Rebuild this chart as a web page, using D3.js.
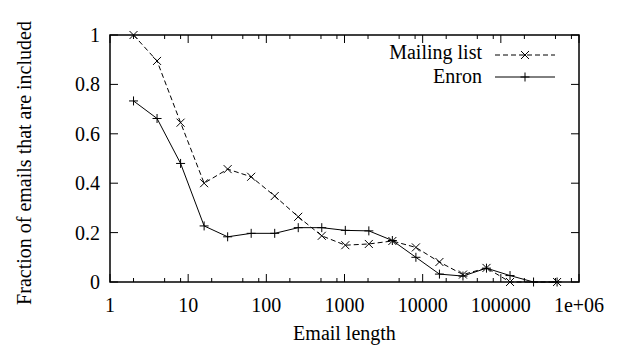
<!DOCTYPE html>
<html>
<head>
<meta charset="utf-8">
<script src="https://cdn.jsdelivr.net/npm/d3@7"></script>
</head>
<body style="margin:0;background:#fff">
<div id="chart"></div>
<script>
// email lengths (bytes), powers of two
var lengths = [2, 4, 8, 16, 32, 64, 128, 256, 512, 1024, 2048, 4096, 8192,
  16384, 32768, 65536, 131072, 262144, 524288];

// fraction included (null = no point)
var mailingList = [1.0, 0.895, 0.645, 0.400, 0.457, 0.426, 0.348, 0.264, 0.187,
  0.149, 0.154, 0.166, 0.140, 0.081, 0.030, 0.057, 0.0, null, 0.0];
var enron = [0.733, 0.662, 0.480, 0.227, 0.183, 0.197, 0.197, 0.220, 0.220,
  0.209, 0.207, 0.168, 0.100, 0.032, 0.024, 0.056, 0.026, 0.0, 0.0];

var xTicks = [1, 10, 100, 1000, 10000, 100000, 1000000];
var xTickLabels = ['1', '10', '100', '1000', '10000', '100000', '1e+06'];
var xMinor = [2, 5, 8];
var yTicks = [0, 0.2, 0.4, 0.6, 0.8, 1];
var yTickLabels = ['0', '0.2', '0.4', '0.6', '0.8', '1'];

(function () {
  var width = 625,
    height = 347;
  var mLeft = 110, mRight = 579, mTop = 35, mBottom = 282;

  var x = d3.scaleLog().domain([1, 1e6]).range([mLeft, mRight]);
  var y = d3.scaleLinear().domain([0, 1]).range([mBottom, mTop]);

  var svg = d3.select('#chart')
    .append('svg')
    .attr('width', width)
    .attr('height', height);

  // minor x ticks: 2,5,8 in each decade
  var minorVals = [];
  xTicks.slice(0, -1).forEach(function (d) {
    xMinor.forEach(function (m) { minorVals.push(d * m); });
  });

  var ticks = svg.append('g').attr('stroke', '#000').attr('stroke-width', 1);

  xTicks.forEach(function (d) {
    ticks.append('line').attr('x1', x(d)).attr('x2', x(d)).attr('y1', mBottom).attr('y2', mBottom - 8);
    ticks.append('line').attr('x1', x(d)).attr('x2', x(d)).attr('y1', mTop).attr('y2', mTop + 8);
  });
  minorVals.forEach(function (d) {
    ticks.append('line').attr('x1', x(d)).attr('x2', x(d)).attr('y1', mBottom).attr('y2', mBottom - 4);
    ticks.append('line').attr('x1', x(d)).attr('x2', x(d)).attr('y1', mTop).attr('y2', mTop + 4);
  });
  yTicks.forEach(function (d) {
    ticks.append('line').attr('x1', mLeft).attr('x2', mLeft + 8).attr('y1', y(d)).attr('y2', y(d));
    ticks.append('line').attr('x1', mRight).attr('x2', mRight - 8).attr('y1', y(d)).attr('y2', y(d));
  });

  // tick labels
  svg.selectAll('.xlab')
    .data(xTicks)
    .enter()
    .append('text')
    .attr('class', 'xlab')
    .attr('x', function (d) { return x(d); })
    .attr('y', 312)
    .attr('text-anchor', 'middle')
    .text(function (d, i) { return xTickLabels[i]; });

  svg.selectAll('.ylab')
    .data(yTicks)
    .enter()
    .append('text')
    .attr('class', 'ylab')
    .attr('x', 100)
    .attr('y', function (d) { return y(d) + 7; })
    .attr('text-anchor', 'end')
    .text(function (d, i) { return yTickLabels[i]; });

  // axis titles
  svg.append('text')
    .attr('x', (mLeft + mRight) / 2)
    .attr('y', 340)
    .attr('text-anchor', 'middle')
    .text('Email length');

  svg.append('text')
    .attr('transform', 'translate(31,163) rotate(-90)')
    .attr('text-anchor', 'middle')
    .text('Fraction of emails that are included');

  // series
  var mlData = lengths.map(function (d, i) { return [d, mailingList[i]]; })
    .filter(function (d) { return d[1] !== null; });
  var enData = lengths.map(function (d, i) { return [d, enron[i]]; });

  var line = d3.line()
    .x(function (d) { return x(d[0]); })
    .y(function (d) { return y(d[1]); });

  svg.append('path')
    .datum(mlData)
    .attr('fill', 'none')
    .attr('stroke', '#000')
    .attr('stroke-width', 1)
    .attr('stroke-dasharray', '5,3')
    .attr('d', line);

  svg.append('path')
    .datum(enData)
    .attr('fill', 'none')
    .attr('stroke', '#000')
    .attr('stroke-width', 1)
    .attr('d', line);

  function cross(px, py, r) {
    return 'M' + (px - r) + ',' + (py - r) + 'L' + (px + r) + ',' + (py + r) +
      'M' + (px - r) + ',' + (py + r) + 'L' + (px + r) + ',' + (py - r);
  }
  function plus(px, py, r) {
    return 'M' + (px - r) + ',' + py + 'L' + (px + r) + ',' + py +
      'M' + px + ',' + (py - r) + 'L' + px + ',' + (py + r);
  }

  svg.selectAll('.mlpt')
    .data(mlData)
    .enter()
    .append('path')
    .attr('class', 'mlpt')
    .attr('stroke', '#000')
    .attr('stroke-width', 1)
    .attr('d', function (d) { return cross(x(d[0]), y(d[1]), 4); });

  svg.selectAll('.enpt')
    .data(enData)
    .enter()
    .append('path')
    .attr('class', 'enpt')
    .attr('stroke', '#000')
    .attr('stroke-width', 1)
    .attr('d', function (d) { return plus(x(d[0]), y(d[1]), 4.5); });

  // legend
  var legend = svg.append('g');
  legend.append('text').attr('x', 482).attr('y', 59).attr('text-anchor', 'end').text('Mailing list');
  legend.append('text').attr('x', 482).attr('y', 83).attr('text-anchor', 'end').text('Enron');
  legend.append('line').attr('x1', 495).attr('x2', 555).attr('y1', 55).attr('y2', 55)
    .attr('stroke', '#000').attr('stroke-dasharray', '5,3');
  legend.append('path').attr('stroke', '#000').attr('d', cross(525, 55, 4));
  legend.append('line').attr('x1', 495).attr('x2', 555).attr('y1', 77).attr('y2', 77)
    .attr('stroke', '#000');
  legend.append('path').attr('stroke', '#000').attr('d', plus(525, 77, 4.5));

  // frame
  svg.append('rect')
    .attr('x', mLeft)
    .attr('y', mTop)
    .attr('width', mRight - mLeft)
    .attr('height', mBottom - mTop)
    .attr('fill', 'none')
    .attr('stroke', '#000')
    .attr('stroke-width', 1.5);

  // Times-like font on every label
  svg.selectAll('text')
    .style('font-family', "'Liberation Serif'")
    .style('font-size', '20px')
    .style('fill', '#000');
})();
</script>
</body>
</html>
